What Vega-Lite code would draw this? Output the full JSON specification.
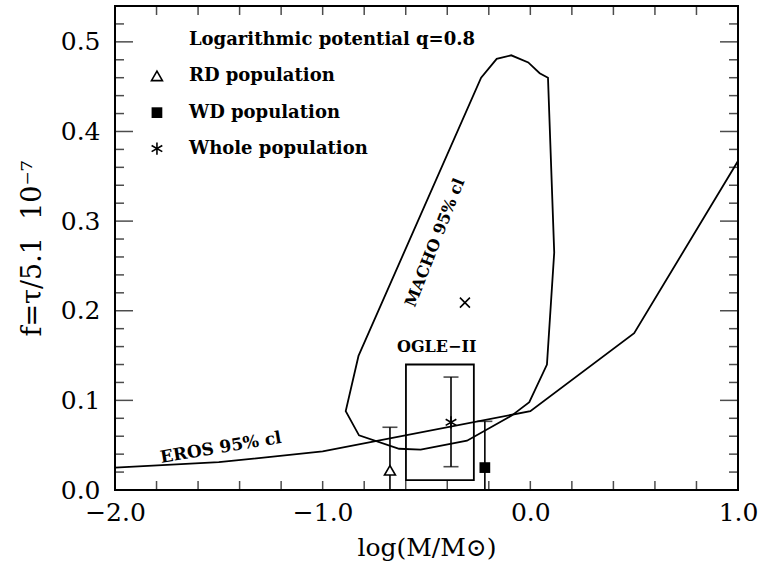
{
  "$schema": "https://vega.github.io/schema/vega-lite/v6.json",
  "width": 623,
  "height": 484,
  "autosize": "none",
  "padding": {"left": 115, "top": 6, "right": 26, "bottom": 84},
  "background": "white",
  "config": {"view": {"stroke": "black", "strokeWidth": 2}},
  "datasets": {
    "macho": [
      {"i": 0, "x": -0.827, "y": 0.150},
      {"i": 1, "x": -0.237, "y": 0.460},
      {"i": 2, "x": -0.162, "y": 0.481},
      {"i": 3, "x": -0.092, "y": 0.485},
      {"i": 4, "x": -0.010, "y": 0.477},
      {"i": 5, "x": 0.045, "y": 0.465},
      {"i": 6, "x": 0.085, "y": 0.460},
      {"i": 7, "x": 0.115, "y": 0.265},
      {"i": 8, "x": 0.080, "y": 0.140},
      {"i": 9, "x": -0.005, "y": 0.098},
      {"i": 10, "x": -0.090, "y": 0.083},
      {"i": 11, "x": -0.305, "y": 0.055},
      {"i": 12, "x": -0.528, "y": 0.045},
      {"i": 13, "x": -0.632, "y": 0.046},
      {"i": 14, "x": -0.825, "y": 0.061},
      {"i": 15, "x": -0.889, "y": 0.088},
      {"i": 16, "x": -0.827, "y": 0.150}
    ],
    "eros": [
      {"x": -2.0, "y": 0.025},
      {"x": -1.5, "y": 0.031},
      {"x": -1.0, "y": 0.043},
      {"x": 0.0, "y": 0.088},
      {"x": 0.5, "y": 0.175},
      {"x": 1.0, "y": 0.367}
    ],
    "ogle": [{"x1": -0.599, "x2": -0.272, "y1": 0.011, "y2": 0.140}],
    "pops": [
      {"pop": "RD", "x": -0.676, "y": 0.022, "lo": 0, "hi": 0.070},
      {"pop": "WD", "x": -0.219, "y": 0.025, "lo": 0, "hi": 0.0766},
      {"pop": "Whole", "x": -0.382, "y": 0.0755, "lo": 0.026, "hi": 0.126}
    ],
    "markers": [
      {"kind": "RD", "x": -0.676, "y": 0.022},
      {"kind": "WD", "x": -0.219, "y": 0.025},
      {"kind": "Whole", "x": -0.382, "y": 0.0755},
      {"kind": "Cross", "x": -0.315, "y": 0.209},
      {"kind": "RD", "x": -1.798, "y": 0.462},
      {"kind": "WD", "x": -1.798, "y": 0.421},
      {"kind": "Whole", "x": -1.798, "y": 0.381}
    ],
    "legend": [
      {"x": -1.644, "y": 0.502, "label": "Logarithmic potential q=0.8"},
      {"x": -1.644, "y": 0.462, "label": "RD population"},
      {"x": -1.644, "y": 0.421, "label": "WD population"},
      {"x": -1.644, "y": 0.381, "label": "Whole population"}
    ],
    "machoLabel": [{"x": -0.459, "y": 0.276, "label": "MACHO 95% cl"}],
    "erosLabel": [{"x": -1.49, "y": 0.047, "label": "EROS 95% cl"}],
    "ogleLabel": [{"x": -0.451, "y": 0.159, "label": "OGLE−II"}],
    "xTicks": [
      {"v": -1.8}, {"v": -1.6}, {"v": -1.4}, {"v": -1.2}, {"v": -1.0},
      {"v": -0.8}, {"v": -0.6}, {"v": -0.4}, {"v": -0.2}, {"v": 0.0},
      {"v": 0.2}, {"v": 0.4}, {"v": 0.6}, {"v": 0.8}
    ],
    "yMinor": [
      {"v": 0.02}, {"v": 0.04}, {"v": 0.06}, {"v": 0.08},
      {"v": 0.12}, {"v": 0.14}, {"v": 0.16}, {"v": 0.18},
      {"v": 0.22}, {"v": 0.24}, {"v": 0.26}, {"v": 0.28},
      {"v": 0.32}, {"v": 0.34}, {"v": 0.36}, {"v": 0.38},
      {"v": 0.42}, {"v": 0.44}, {"v": 0.46}, {"v": 0.48},
      {"v": 0.52}
    ],
    "yMajor": [{"v": 0.1}, {"v": 0.2}, {"v": 0.3}, {"v": 0.4}, {"v": 0.5}]
  },
  "layer": [
    {
      "data": {"name": "macho"},
      "mark": {"type": "line", "color": "black", "strokeWidth": 1.8},
      "encoding": {
        "x": {
          "field": "x", "type": "quantitative",
          "scale": {"domain": [-2, 1], "nice": false, "zero": false},
          "axis": {
            "orient": "bottom", "zindex": 0,
            "values": [-2, -1, 0, 1],
            "format": ".1f",
            "ticks": false, "tickSize": 0,
            "labelPadding": 10, "labelFont": "DejaVu Serif", "labelFontSize": 25, "labelColor": "black",
            "labelFlush": false, "labelOverlap": false,
            "domain": false, "grid": false,
            "title": "log(M/M⊙)", "titleFont": "DejaVu Serif", "titleFontSize": 25,
            "titleFontWeight": "normal", "titleColor": "black", "titlePadding": 10
          }
        },
        "y": {
          "field": "y", "type": "quantitative",
          "scale": {"domain": [0, 0.54], "nice": false},
          "axis": {
            "orient": "left", "zindex": 0,
            "values": [0, 0.1, 0.2, 0.3, 0.4, 0.5],
            "format": ".1f",
            "ticks": false, "tickSize": 0,
            "labelPadding": 15, "labelFont": "DejaVu Serif", "labelFontSize": 25, "labelColor": "black",
            "labelOverlap": false, "labelFlush": false,
            "domain": false, "grid": false,
            "title": "f=τ/5.1\u00a0\u00a010⁻⁷", "titleFont": "DejaVu Serif", "titleFontSize": 27,
            "titleFontWeight": "normal", "titleColor": "black", "titlePadding": 14
          }
        },
        "order": {"field": "i", "type": "quantitative"}
      }
    },
    {
      "data": {"name": "eros"},
      "mark": {"type": "line", "color": "black", "strokeWidth": 1.8},
      "encoding": {
        "x": {"field": "x", "type": "quantitative"},
        "y": {"field": "y", "type": "quantitative"}
      }
    },
    {
      "data": {"name": "xTicks"},
      "mark": {"type": "tick", "orient": "vertical", "color": "black", "size": 9, "thickness": 1.5, "yOffset": -4.5},
      "encoding": {
        "x": {"field": "v", "type": "quantitative"},
        "y": {"datum": 0, "type": "quantitative"}
      }
    },
    {
      "data": {"name": "xTicks"},
      "mark": {"type": "tick", "orient": "vertical", "color": "black", "size": 9, "thickness": 1.5, "yOffset": 4.5},
      "encoding": {
        "x": {"field": "v", "type": "quantitative"},
        "y": {"datum": 0.54, "type": "quantitative"}
      }
    },
    {
      "data": {"name": "yMinor"},
      "mark": {"type": "tick", "orient": "horizontal", "color": "black", "size": 9, "thickness": 1.5, "xOffset": 4.5},
      "encoding": {
        "y": {"field": "v", "type": "quantitative"},
        "x": {"datum": -2, "type": "quantitative"}
      }
    },
    {
      "data": {"name": "yMinor"},
      "mark": {"type": "tick", "orient": "horizontal", "color": "black", "size": 9, "thickness": 1.5, "xOffset": -4.5},
      "encoding": {
        "y": {"field": "v", "type": "quantitative"},
        "x": {"datum": 1, "type": "quantitative"}
      }
    },
    {
      "data": {"name": "yMajor"},
      "mark": {"type": "tick", "orient": "horizontal", "color": "black", "size": 18, "thickness": 1.5, "xOffset": 9},
      "encoding": {
        "y": {"field": "v", "type": "quantitative"},
        "x": {"datum": -2, "type": "quantitative"}
      }
    },
    {
      "data": {"name": "yMajor"},
      "mark": {"type": "tick", "orient": "horizontal", "color": "black", "size": 18, "thickness": 1.5, "xOffset": -9},
      "encoding": {
        "y": {"field": "v", "type": "quantitative"},
        "x": {"datum": 1, "type": "quantitative"}
      }
    },
    {
      "data": {"name": "ogle"},
      "mark": {"type": "rect", "fill": null, "fillOpacity": 0, "stroke": "black", "strokeWidth": 1.8},
      "encoding": {
        "x": {"field": "x1", "type": "quantitative"},
        "x2": {"field": "x2"},
        "y": {"field": "y1", "type": "quantitative"},
        "y2": {"field": "y2"}
      }
    },
    {
      "data": {"name": "pops"},
      "mark": {"type": "rule", "color": "black", "strokeWidth": 1.6},
      "encoding": {
        "x": {"field": "x", "type": "quantitative"},
        "y": {"field": "lo", "type": "quantitative"},
        "y2": {"field": "hi"}
      }
    },
    {
      "data": {"name": "pops"},
      "mark": {"type": "tick", "orient": "horizontal", "color": "black", "size": 15, "thickness": 1.6},
      "encoding": {
        "x": {"field": "x", "type": "quantitative"},
        "y": {"field": "hi", "type": "quantitative"}
      }
    },
    {
      "data": {"name": "pops"},
      "transform": [{"filter": "datum.lo > 0"}],
      "mark": {"type": "tick", "orient": "horizontal", "color": "black", "size": 15, "thickness": 1.6},
      "encoding": {
        "x": {"field": "x", "type": "quantitative"},
        "y": {"field": "lo", "type": "quantitative"}
      }
    },
    {
      "data": {"name": "markers"},
      "transform": [{"filter": "datum.kind === 'RD'"}],
      "mark": {"type": "point", "shape": "triangle-up", "filled": true, "fill": "white", "stroke": "black", "strokeWidth": 1.6, "size": 120, "opacity": 1},
      "encoding": {
        "x": {"field": "x", "type": "quantitative"},
        "y": {"field": "y", "type": "quantitative"}
      }
    },
    {
      "data": {"name": "markers"},
      "transform": [{"filter": "datum.kind === 'WD'"}],
      "mark": {"type": "point", "shape": "square", "filled": true, "color": "black", "size": 115, "opacity": 1},
      "encoding": {
        "x": {"field": "x", "type": "quantitative"},
        "y": {"field": "y", "type": "quantitative"}
      }
    },
    {
      "data": {"name": "markers"},
      "transform": [{"filter": "datum.kind === 'Whole'"}],
      "mark": {"type": "point", "shape": "M0,-1L0,1M-0.87,-0.5L0.87,0.5M-0.87,0.5L0.87,-0.5", "filled": false, "stroke": "black", "strokeWidth": 1.6, "size": 150, "opacity": 1},
      "encoding": {
        "x": {"field": "x", "type": "quantitative"},
        "y": {"field": "y", "type": "quantitative"}
      }
    },
    {
      "data": {"name": "markers"},
      "transform": [{"filter": "datum.kind === 'Cross'"}],
      "mark": {"type": "point", "shape": "M-1,-1L1,1M-1,1L1,-1", "filled": false, "stroke": "black", "strokeWidth": 1.6, "size": 100, "opacity": 1},
      "encoding": {
        "x": {"field": "x", "type": "quantitative"},
        "y": {"field": "y", "type": "quantitative"}
      }
    },
    {
      "data": {"name": "legend"},
      "mark": {"type": "text", "align": "left", "baseline": "middle", "font": "DejaVu Serif", "fontSize": 18, "fontWeight": "bold", "color": "black"},
      "encoding": {
        "x": {"field": "x", "type": "quantitative"},
        "y": {"field": "y", "type": "quantitative"},
        "text": {"field": "label"}
      }
    },
    {
      "data": {"name": "machoLabel"},
      "mark": {"type": "text", "align": "center", "baseline": "middle", "angle": -68.5, "font": "DejaVu Serif", "fontSize": 16, "fontWeight": "bold", "color": "black"},
      "encoding": {
        "x": {"field": "x", "type": "quantitative"},
        "y": {"field": "y", "type": "quantitative"},
        "text": {"field": "label"}
      }
    },
    {
      "data": {"name": "erosLabel"},
      "mark": {"type": "text", "align": "center", "baseline": "middle", "angle": -9.5, "font": "DejaVu Serif", "fontSize": 17, "fontWeight": "bold", "color": "black"},
      "encoding": {
        "x": {"field": "x", "type": "quantitative"},
        "y": {"field": "y", "type": "quantitative"},
        "text": {"field": "label"}
      }
    },
    {
      "data": {"name": "ogleLabel"},
      "mark": {"type": "text", "align": "center", "baseline": "middle", "font": "DejaVu Serif", "fontSize": 16, "fontWeight": "bold", "color": "black"},
      "encoding": {
        "x": {"field": "x", "type": "quantitative"},
        "y": {"field": "y", "type": "quantitative"},
        "text": {"field": "label"}
      }
    }
  ]
}
